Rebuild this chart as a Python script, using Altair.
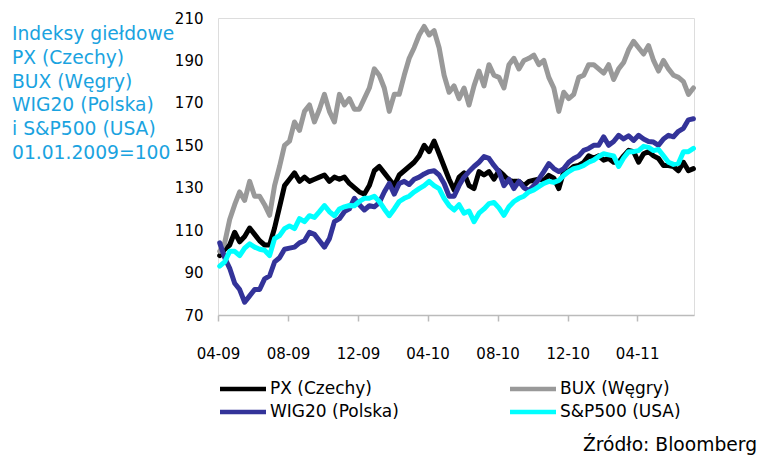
import altair as alt
import pandas as pd

dates = pd.date_range("2009-04-04", "2011-07-08", periods=96)

series_names = ["PX (Czechy)", "BUX (Węgry)", "WIG20 (Polska)", "S&P500 (USA)"]
series_colors = ["#000000", "#999999", "#333399", "#00FFFF"]

px = [98, 101, 103, 109, 104.5, 107, 111, 108, 105, 103,
      103, 111, 121, 131, 134, 137, 133, 135, 133, 134,
      135, 136, 133, 135, 134, 135, 132, 130, 128, 127,
      131, 138, 140, 137, 134, 131, 136, 138, 140, 142,
      145, 150, 147, 152, 146, 140, 134, 129, 135, 137,
      131, 129.6, 137.6, 136, 137.6, 134, 138, 135.8, 133.4, 133,
      133, 131, 133, 133.5, 134, 133.5, 135.8, 134.5, 129.6, 137.6,
      138, 140, 140.5, 142, 145, 144, 145, 143, 143.8, 142,
      142, 145, 147.6, 147, 142, 146, 147, 145, 143.8, 140.5,
      140.5, 140, 138, 142, 138, 139]

bux = [100, 104, 115, 122, 128, 124, 133, 126, 126, 122,
       117, 131, 140, 150, 152, 161, 157, 166, 169, 161,
       167, 174, 166, 161, 174, 169, 172, 167, 167, 172,
       177, 186, 183, 177, 166, 174, 174, 183, 191, 196,
       202, 206, 202, 204, 196, 183, 175, 178, 172, 177,
       169, 178, 185, 178, 188, 183, 182, 177, 188, 191,
       186, 190, 191, 192.5, 188, 190, 182, 177, 166, 175,
       172, 174, 182, 183, 188, 188, 186, 184, 188, 181,
       186, 189, 195, 199, 196, 193, 197, 190, 185, 190,
       186, 183, 182, 180, 174, 177]

wig20 = [104, 97, 92, 85, 82, 76, 79, 82, 82, 87,
         88.4, 95, 97, 101, 101.5, 102, 104, 105, 109, 108,
         105, 102, 106, 114, 115.4, 118.7, 120, 125, 122, 119.5,
         121.5, 121, 123, 128, 132, 127, 132, 133, 131.5, 134,
         135, 136.5, 137.6, 138, 136, 132, 126, 126, 131, 135,
         137.6, 140, 142, 144.7, 143.8, 140.5, 137.6, 131, 134, 129.6,
         133, 130, 128.7, 131, 134, 137.6, 141.4, 139, 137.6, 139,
         142, 143.8, 145, 147.6, 148.5, 150, 150, 154, 150, 151.8,
         154.7, 153, 154.5, 152.3, 154.7, 153, 151.8, 151.5, 150, 153,
         154.7, 154, 156.6, 158, 162, 162.5]

sp500 = [93, 95, 100, 100, 98, 101.5, 103.5, 102, 101, 100.5,
         98, 106, 107.4, 110.7, 112, 110.7, 115.4, 114, 116.8, 116,
         118.7, 121.6, 118.7, 116.8, 120, 121, 121.6, 121.5, 123.5, 125,
         125, 126, 123.5, 120, 116.8, 120, 123.5, 125, 126, 128,
         129.6, 131, 133, 131, 129.6, 125, 121.6, 119.5, 122, 118,
         119, 114, 118, 120, 122.5, 123, 120.5, 117, 121, 123.5,
         125, 126, 128, 129, 130.5, 132, 133, 132.5, 133.4, 135.8,
         137.6, 139, 139.5, 140.5, 142, 143, 144.7, 146, 145.5, 145,
         140, 144, 147, 147, 147.5, 149.5, 149, 147.5, 148, 145,
         142, 141, 141.5, 147, 147, 148.5]

y_ticks = [70, 90, 110, 130, 150, 170, 190, 210]
x_tick_months = [(2009, 4), (2009, 8), (2009, 12), (2010, 4), (2010, 8), (2010, 12), (2011, 4)]

title_lines = ["Indeksy giełdowe", "PX (Czechy)", "BUX (Węgry)",
               "WIG20 (Polska)", "i S&P500 (USA)", "01.01.2009=100"]
source_text = "Źródło: Bloomberg"

FONT = "DejaVu Sans"
TITLE_COLOR = "#1AA3E0"

rows = []
for name, vals in zip(series_names, [px, bux, wig20, sp500]):
    for d, v in zip(dates, vals):
        rows.append({"date": d, "series": name, "value": v})
df = pd.DataFrame(rows)

x_enc = alt.X(
    "date:T",
    scale=alt.Scale(domain=[alt.DateTime(year=2009, month=4, date=1),
                            alt.DateTime(year=2011, month=7, date=9)]),
    axis=alt.Axis(
        values=[alt.DateTime(year=y, month=m, date=1) for y, m in x_tick_months],
        format="%m-%y", title=None, grid=False,
        domainColor="#BBBBBB", domainWidth=1.5,
        tickColor="#BBBBBB", tickWidth=1.5, tickSize=6,
        labelPadding=32, labelBaseline="middle", labelAngle=0,
        labelFont=FONT, labelFontSize=15, labelColor="#000000",
        labelFlush=False, labelOverlap=False,
    ),
)
y_enc = alt.Y(
    "value:Q",
    scale=alt.Scale(domain=[70, 210], nice=False, zero=False),
    axis=alt.Axis(values=y_ticks, title=None, grid=False, domain=False, ticks=False,
                  labelPadding=15, labelFont=FONT, labelFontSize=15, labelColor="#000000"),
)
color_enc = alt.Color("series:N",
                      scale=alt.Scale(domain=series_names, range=series_colors),
                      legend=None)

layers = []
for name in series_names:
    layers.append(
        alt.Chart(df).transform_filter(alt.datum.series == name)
        .mark_line(strokeWidth=5, strokeJoin="round", strokeCap="round")
        .encode(x=x_enc, y=y_enc, color=color_enc)
    )

one = pd.DataFrame({"k": [0]})

# two-column legend below the axis: PX | BUX  /  WIG20 | S&P500
legend_layers = []
col_x = [2, 292]
row_y = [371, 394]
for i, (name, col) in enumerate(zip(series_names, series_colors)):
    cx = col_x[i % 2]
    ry = row_y[i // 2]
    legend_layers.append(
        alt.Chart(one).mark_rule(strokeWidth=4.5, color=col)
        .encode(x=alt.value(cx), x2=alt.value(cx + 46), y=alt.value(ry))
    )
    legend_layers.append(
        alt.Chart(one).mark_text(align="left", baseline="middle", font=FONT,
                                 fontSize=17, color="#000000")
        .encode(x=alt.value(cx + 50), y=alt.value(ry), text=alt.value(name))
    )

title_mark = alt.Chart(one).mark_text(
    align="left", baseline="alphabetic", font=FONT, fontSize=18.7,
    lineHeight=23.8, color=TITLE_COLOR,
).encode(x=alt.value(-206), y=alt.value(22), text=alt.value(title_lines))

source_mark = alt.Chart(one).mark_text(
    align="right", baseline="middle", font=FONT, fontSize=18.7, color="#000000",
).encode(x=alt.value(539), y=alt.value(427), text=alt.value(source_text))

chart = alt.layer(*layers, *legend_layers, title_mark, source_mark).properties(
    width=476, height=297,
    autosize=alt.AutoSizeParams(type="none"),
    padding={"left": 210, "top": 10, "right": 64, "bottom": 140},
).configure_view(stroke=None).configure(background="white")

chart.save("out.html", embed_options={"renderer": "svg", "actions": False})
